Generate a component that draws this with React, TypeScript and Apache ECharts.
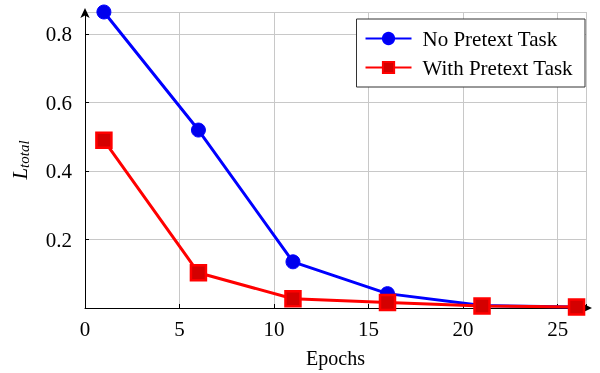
import React, { useEffect, useRef } from "react";
import * as echarts from "echarts";

const epochs = [1, 6, 11, 16, 21, 26];
const noPretext = [0.865, 0.52, 0.135, 0.042, 0.007, 0.003];
const withPretext = [0.49, 0.103, 0.027, 0.016, 0.006, 0.003];
const xTicks = [0, 5, 10, 15, 20, 25];
const yTicks = [0.2, 0.4, 0.6, 0.8];

const FONT = "Liberation Serif";

export default function App() {
  const ref = useRef<HTMLDivElement>(null);
  useEffect(() => {
    const chart = echarts.init(ref.current!, null, { renderer: "svg" });
    chart.setOption({
      animation: false,
      grid: { left: 85, right: 14, top: 12, bottom: 65, containLabel: false, outerBoundsMode: "none" },
      legend: {
        orient: "vertical",
        right: 15,
        top: 19,
        backgroundColor: "#fff",
        borderColor: "#333",
        borderWidth: 1,
        padding: [9, 12, 9, 8],
        itemGap: 8,
        itemWidth: 46,
        itemHeight: 14,
        textStyle: { fontFamily: FONT, fontSize: 21, color: "#000", padding: [0, 0, 0, 6] },
        data: ["No Pretext Task", "With Pretext Task"],
      },
      xAxis: {
        type: "value",
        min: 0,
        max: 26.5,
        interval: 5,
        name: "Epochs",
        nameLocation: "middle",
        nameGap: 40,
        nameTextStyle: { fontFamily: FONT, fontSize: 20, color: "#000" },
        axisLine: {
          show: true,
          onZero: false,
          symbol: ["none", "arrow"],
          symbolSize: [7, 10],
          symbolOffset: [0, 6],
          lineStyle: { color: "#000", width: 1 },
        },
        axisTick: { show: true, inside: true, length: 4, lineStyle: { color: "#000" } },
        axisLabel: {
          margin: 10,
          fontFamily: FONT,
          fontSize: 21,
          color: "#000",
          formatter: (v: number) => (xTicks.includes(v) ? String(v) : ""),
        },
        splitLine: { show: true, lineStyle: { color: "#c8c8c8", width: 1 } },
      },
      yAxis: {
        type: "value",
        min: 0,
        max: 0.865,
        interval: 0.2,
        name: "{i|L}{s|total}",
        nameLocation: "middle",
        nameGap: 54,
        nameRotate: 90,
        nameTextStyle: {
          rich: {
            i: { fontFamily: FONT, fontStyle: "italic", fontSize: 21, color: "#000" },
            s: { fontFamily: FONT, fontStyle: "italic", fontSize: 15, color: "#000", verticalAlign: "bottom", padding: [8, 0, 0, 0] },
          },
        },
        axisLine: {
          show: true,
          onZero: false,
          symbol: ["none", "arrow"],
          symbolSize: [7, 10],
          symbolOffset: [0, 4],
          lineStyle: { color: "#000", width: 1 },
        },
        axisTick: { show: true, inside: true, length: 4, lineStyle: { color: "#000" } },
        axisLabel: {
          margin: 13,
          fontFamily: FONT,
          fontSize: 21,
          color: "#000",
          showMaxLabel: false,
          formatter: (v: number) => {
            const t = yTicks.find((y) => Math.abs(y - v) < 1e-6);
            return t !== undefined ? t.toFixed(1) : "";
          },
        },
        splitLine: { show: true, lineStyle: { color: "#c8c8c8", width: 1 } },
      },
      series: [
        {
          name: "No Pretext Task",
          type: "line",
          data: epochs.map((e, i) => [e, noPretext[i]]),
          symbol: "circle",
          symbolSize: 14,
          lineStyle: { color: "#0000ff", width: 3 },
          itemStyle: { color: "#0000ee", borderColor: "#0000ff", borderWidth: 1 },
          z: 3,
        },
        {
          name: "With Pretext Task",
          type: "line",
          data: epochs.map((e, i) => [e, withPretext[i]]),
          symbol: "rect",
          symbolSize: 15,
          lineStyle: { color: "#ff0000", width: 3 },
          itemStyle: { color: "#d40000", borderColor: "#ff0000", borderWidth: 2.5 },
          z: 4,
        },
      ],
    });
    return () => chart.dispose();
  }, []);
  return <div ref={ref} style={{ position: "fixed", left: 0, top: 0, width: 600, height: 373 }} />;
}
